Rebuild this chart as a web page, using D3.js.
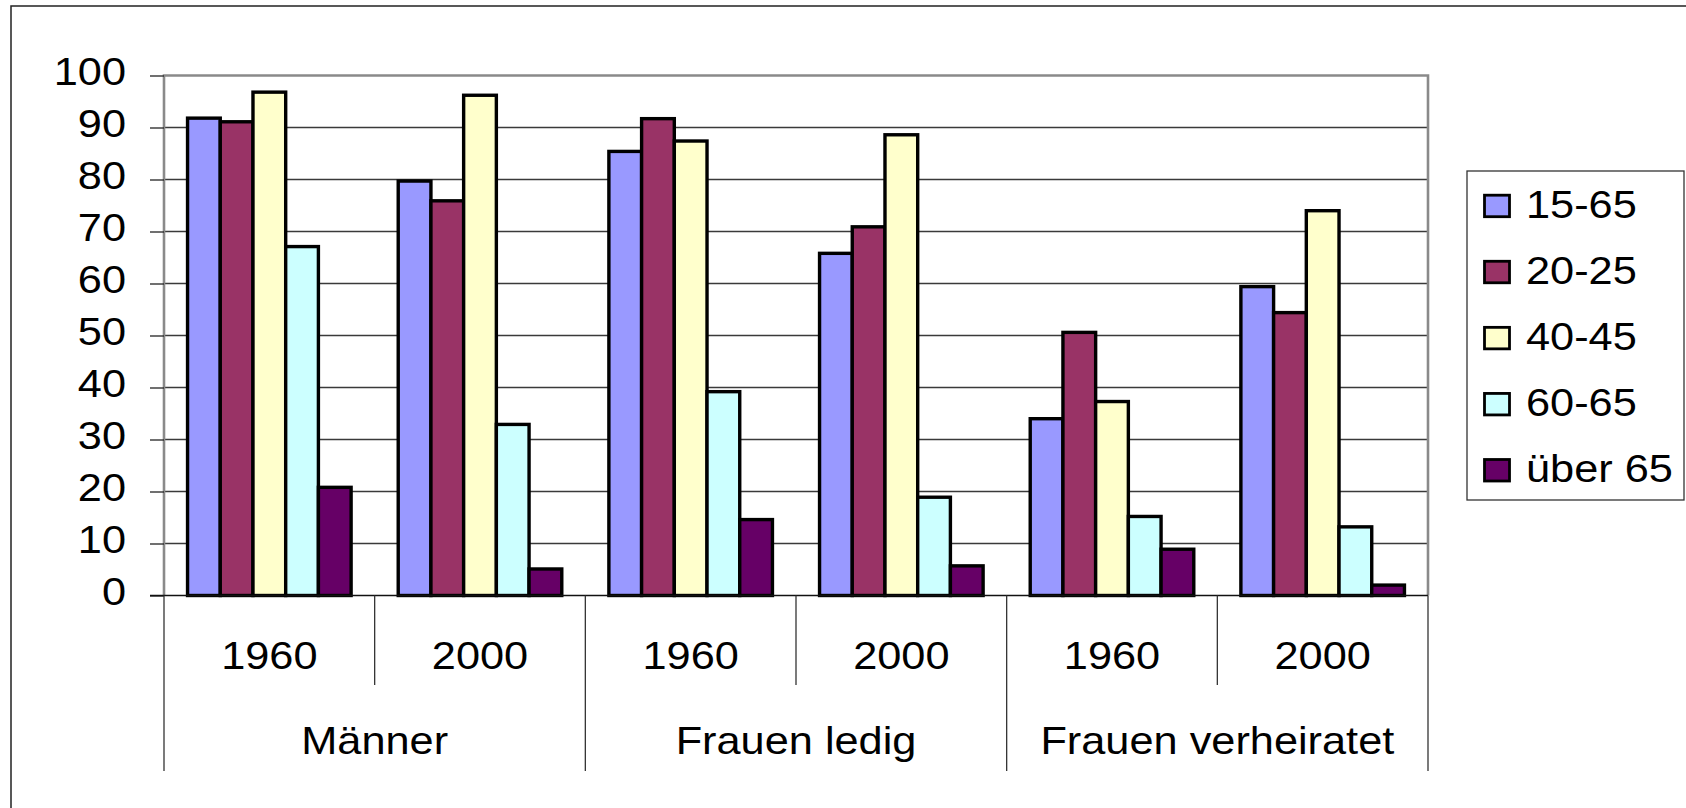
<!DOCTYPE html>
<html><head><meta charset="utf-8">
<script src="https://cdn.jsdelivr.net/npm/d3@7"></script>
<style>
html,body{margin:0;padding:0;background:#fff;}
svg{display:block;}
text{font-family:"Liberation Sans",Arial,sans-serif;fill:#000;}
</style></head>
<body>
<svg id="chart" width="1686" height="808"></svg>
<script>
// ---- data ----
const groups = ["Männer", "Frauen ledig", "Frauen verheiratet"];
const years = ["1960", "2000"];
const seriesNames = ["15-65", "20-25", "40-45", "60-65", "über 65"];
const seriesColors = ["#9999FF", "#993366", "#FFFFCC", "#CCFFFF", "#660066"];
// values per series, in order: Männer 1960, Männer 2000, ledig 1960, ledig 2000, verh. 1960, verh. 2000
const s15_65   = [91.8, 79.7, 85.4, 65.8, 34.0, 59.4];
const s20_25   = [91.1, 75.9, 91.7, 70.9, 50.6, 54.4];
const s40_45   = [96.8, 96.2, 87.4, 88.6, 37.3, 74.0];
const s60_65   = [67.1, 32.9, 39.2, 18.9, 15.2, 13.2];
const sUeber65 = [20.8,  5.1, 14.6,  5.7,  8.9,  2.0];
const yTicks = [0, 10, 20, 30, 40, 50, 60, 70, 80, 90, 100];

const seriesValues = [s15_65, s20_25, s40_45, s60_65, sUeber65];
const cats = [];
groups.forEach((g, gi) => years.forEach((yr, yi) => cats.push({key: gi * 2 + yi, group: g, year: yr})));

// ---- layout ----
const svg = d3.select("#chart");
const L = 164, R = 1428, T = 75.5, B = 595.5;
const SX = 1.14; // horizontal stretch of text
const FS = 38;

const x0 = d3.scaleBand().domain(cats.map(c => c.key)).range([L, R]).paddingInner(0).paddingOuter(0);
const x1 = d3.scaleBand().domain(seriesNames).range([0, x0.bandwidth()]).paddingInner(0).paddingOuter(0.72);
const y = d3.scaleLinear().domain([0, 100]).range([B, T]);

// outer chart border (top and left visible)
svg.append("path").attr("d", `M11,808 L11,6 L1686,6`).attr("fill", "none").attr("stroke", "#222").attr("stroke-width", 1.5);

// gridlines
svg.append("g").selectAll("line").data(yTicks.filter(t => t > 0 && t < 100)).join("line")
  .attr("x1", L).attr("x2", R).attr("y1", d => y(d)).attr("y2", d => y(d))
  .attr("stroke", "#3a3a3a").attr("stroke-width", 1.3);

// plot area border (gray)
svg.append("path").attr("d", `M${L},${B} L${L},${T} L${R},${T} L${R},${B}`)
  .attr("fill", "none").attr("stroke", "#8a8a8a").attr("stroke-width", 2.6);

// y axis ticks
const yAxis = d3.axisLeft(y).tickValues(yTicks).tickSize(14).tickFormat("");
const gy = svg.append("g").attr("transform", `translate(${L},0)`).call(yAxis);
gy.select(".domain").remove();
gy.selectAll(".tick line").attr("stroke", "#222").attr("stroke-width", 1.3);

// y labels
svg.append("g").selectAll("text").data(yTicks).join("text")
  .attr("transform", d => `translate(126,${y(d) + 9.5}) scale(${SX},1)`)
  .attr("text-anchor", "end").attr("font-size", FS).text(d => d);

// bars
const gBars = svg.append("g");
seriesNames.forEach((s, si) => {
  gBars.append("g").selectAll("rect").data(cats).join("rect")
    .attr("x", c => x0(c.key) + x1(s))
    .attr("width", x1.bandwidth())
    .attr("y", c => y(seriesValues[si][c.key]))
    .attr("height", c => y(0) - y(seriesValues[si][c.key]))
    .attr("fill", seriesColors[si])
    .attr("stroke", "#000").attr("stroke-width", 3.4);
});

// x axis line
svg.append("line").attr("x1", L - 14).attr("x2", R).attr("y1", B).attr("y2", B)
  .attr("stroke", "#111").attr("stroke-width", 1.6);

// year-level dividers
const inner = cats.filter(c => c.key % 2 === 1).map(c => x0(c.key));
svg.append("g").selectAll("line").data(inner).join("line")
  .attr("x1", d => d).attr("x2", d => d).attr("y1", B).attr("y2", 685)
  .attr("stroke", "#333").attr("stroke-width", 1.3);
// group-level dividers
const outer = [0, 2, 4].map(k => x0(k)).concat([R]);
svg.append("g").selectAll("line").data(outer).join("line")
  .attr("x1", d => d).attr("x2", d => d).attr("y1", B).attr("y2", 771)
  .attr("stroke", "#333").attr("stroke-width", 1.3);

// year labels
svg.append("g").selectAll("text").data(cats).join("text")
  .attr("transform", c => `translate(${x0(c.key) + x0.bandwidth() / 2},669) scale(${SX},1)`)
  .attr("text-anchor", "middle").attr("font-size", FS).text(c => c.year);

// group labels
svg.append("g").selectAll("text").data(groups).join("text")
  .attr("transform", (g, gi) => `translate(${x0(gi * 2 + 1)},754) scale(${SX},1)`)
  .attr("text-anchor", "middle").attr("font-size", FS).text(g => g);

// legend
const lg = svg.append("g");
lg.append("rect").attr("x", 1467).attr("y", 171).attr("width", 217).attr("height", 329)
  .attr("fill", "#fff").attr("stroke", "#333").attr("stroke-width", 1.3);
const rowY = d3.scalePoint().domain(seriesNames).range([205.7, 470]);
const rows = lg.selectAll("g.row").data(seriesNames).join("g").attr("class", "row");
rows.append("rect").attr("x", 1484.5).attr("y", d => rowY(d) - 10.5).attr("width", 25).attr("height", 21.5)
  .attr("fill", (d, i) => seriesColors[i]).attr("stroke", "#000").attr("stroke-width", 2.8);
rows.append("text").attr("transform", d => `translate(1526,${rowY(d) + 11.8}) scale(${SX},1)`)
  .attr("font-size", FS).text(d => d);
</script>
</body></html>
